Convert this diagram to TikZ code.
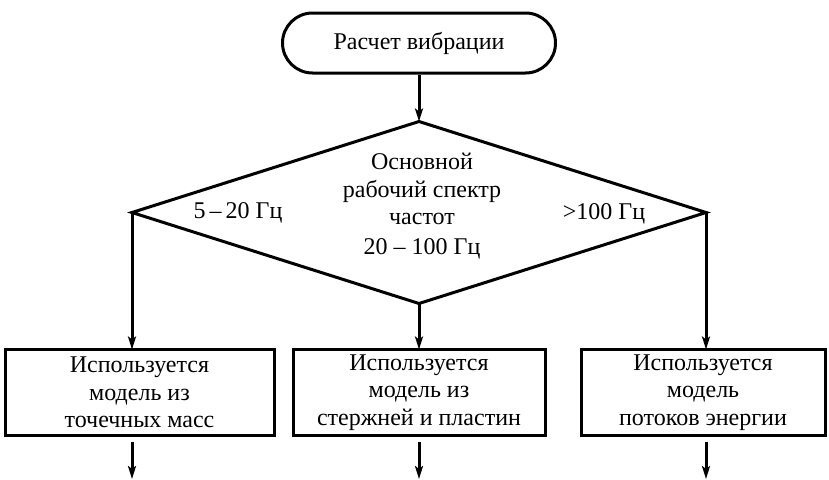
\documentclass[tikz,border=0pt]{standalone}
\usepackage{fontspec}
\setmainfont{Liberation Serif}
\usetikzlibrary{arrows.meta,shapes,positioning}
\tikzset{
  every picture/.style = {
    x = 1pt,
    y = -1pt,
    line width = 3pt,
    >={Stealth[length=13pt,width=8pt,inset=3pt]},
    font = \fontsize{24}{27.5}\selectfont,
  }
  ,
  terminal/.style = {
    rectangle,
    rounded corners = 30pt,
    draw,
    minimum width = 273pt,
    minimum height = 60pt
  }
  , % decision block
  decision/.style = {
    diamond,
    draw,
    aspect = 3.15,
    inner sep = 0pt,
    outer sep = 0pt,
    minimum width = 574pt,
    minimum height = 182pt
  }
  ,
  process/.style = {
    rectangle,
    draw,
    align = center,
    minimum height = 86pt,
    inner sep = 0pt,
    outer sep = 0pt
  }
  , % labels of branches
  label-edge/.style = {
    inner sep = 0pt,
    anchor = base
  }
}
\begin{document}
\begin{tikzpicture}
    \useasboundingbox (0,0) rectangle (829,479);
    \node [terminal] (start) at (419,43) {Расчет вибрации};
    \node [decision, below = 47pt of start] (dia) {};
    \node [align = center] (quest) at (422,189) {Основной\\рабочий спектр\\частот};
    \node [label-edge] (low) at (238,218) {5\,–\,20 Гц};
    \node [label-edge] (mid) at (422,254) {20 – 100 Гц};
    \node [label-edge] (high) at (604,219) {>100 Гц};
    \node [process, minimum width = 269pt, below = 137pt of dia.west, xshift = 7.5pt] (box1)
      {Используется\\модель из\\точечных масс};
    \node [process, minimum width = 252pt, below = 46pt of dia.south] (box2)
      {Используется\\модель из\\стержней и пластин};
    \node [process, minimum width = 244pt, below = 137pt of dia.east, xshift = -3pt] (box3)
      {Используется\\модель\\потоков энергии};
    \path (dia.west |- 0,479) coordinate (out1)
          (dia.south |- 0,479) coordinate (out2)
          (dia.east |- 0,479) coordinate (out3);
    \draw [->] (start) -- (dia.north);
    \draw [->] (dia.west) -- (dia.west |- box1.north);
    \draw [->] (dia.south) -- (box2.north);
    \draw [->] (dia.east) -- (dia.east |- box3.north);
    \draw [->, shorten <= 6pt] (out1 |- box1.south) -- (out1);
    \draw [->, shorten <= 6pt] (out2 |- box2.south) -- (out2);
    \draw [->, shorten <= 6pt] (out3 |- box3.south) -- (out3);
\end{tikzpicture}
\end{document}
